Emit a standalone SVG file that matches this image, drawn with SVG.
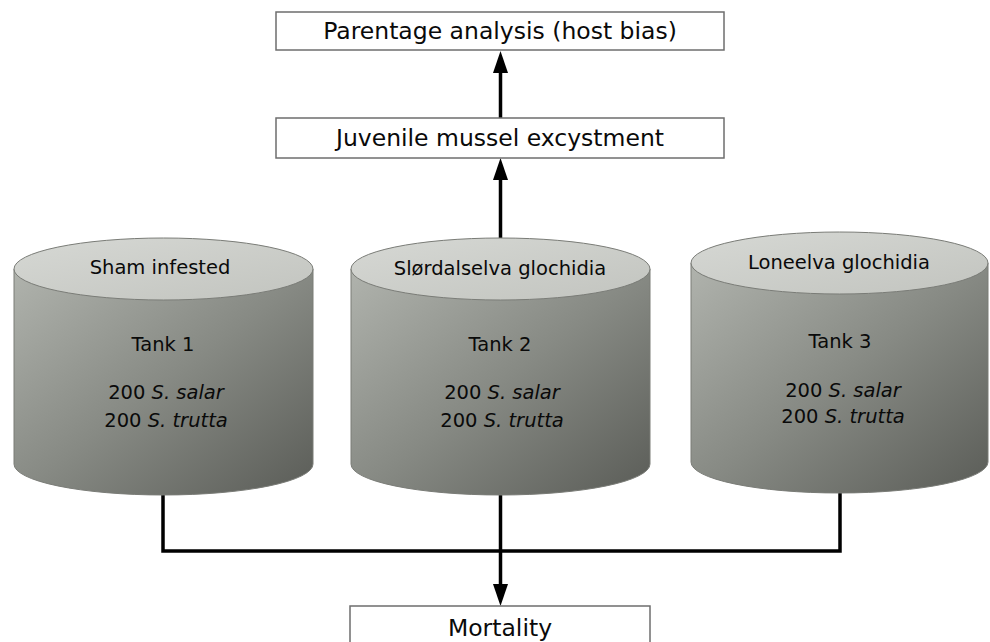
<svg xmlns="http://www.w3.org/2000/svg" width="990" height="642" viewBox="0 0 990 642">
<defs>
<linearGradient id="body" x1="0" y1="0" x2="1" y2="1">
<stop offset="0" stop-color="#b0b3ad"/>
<stop offset="0.5" stop-color="#878a84"/>
<stop offset="1" stop-color="#5a5c57"/>
</linearGradient>
<linearGradient id="lid" x1="0" y1="0" x2="1" y2="1">
<stop offset="0" stop-color="#d6d8d4"/>
<stop offset="1" stop-color="#c2c4bf"/>
</linearGradient>
<marker id="arr" markerUnits="userSpaceOnUse" markerWidth="22" markerHeight="16" refX="0" refY="8" orient="auto">
<path d="M0,0.5 L22,8 L0,15.5 z" fill="#000"/>
</marker>
</defs>
<style>
.box{fill:#fff;stroke:#6e6e6e;stroke-width:1.5}
.body{fill:url(#body);stroke:#7a7c77;stroke-width:1}
.lid{fill:url(#lid);stroke:#7a7c77;stroke-width:1}
.t{font-family:"DejaVu Sans",Verdana,sans-serif;fill:#0a0a0a;text-anchor:middle}
.big{font-size:23.5px}
.sm{font-size:19.5px}
.it{font-style:italic}
.con{fill:none;stroke:#000;stroke-width:3.5}
</style>
<rect width="990" height="642" fill="#fff"/>
<g id="connectors">
<path class="con" d="M500.5,238 V180" marker-end="url(#arr)"/>
<path class="con" d="M500.5,118 V73" marker-end="url(#arr)"/>
<path class="con" d="M163,494 V551 H840 V492"/>
<path class="con" d="M500.5,494 V584" marker-end="url(#arr)"/>
</g>
<g id="parentage">
<rect class="box" x="276" y="12" width="448" height="38"/>
<text class="t big" x="500" y="39">Parentage analysis (host bias)</text>
</g>
<g id="excystment">
<rect class="box" x="276" y="118" width="448" height="40"/>
<text class="t big" x="500" y="146">Juvenile mussel excystment</text>
</g>
<g id="tank1">
<path class="body" d="M14,269 V464 A149.5,31 0 0 0 313,464 V269 Z"/>
<ellipse class="lid" cx="163.5" cy="269" rx="149.5" ry="31"/>
<text class="t sm" x="160" y="274">Sham infested</text>
<text class="t sm" x="163" y="351">Tank 1</text>
<text class="t sm" x="166" y="399">200 <tspan class="it">S. salar</tspan></text>
<text class="t sm" x="166" y="427">200 <tspan class="it">S. trutta</tspan></text>
</g>
<g id="tank2">
<path class="body" d="M351,269 V464 A149.5,31 0 0 0 650,464 V269 Z"/>
<ellipse class="lid" cx="500.5" cy="269" rx="149.5" ry="31"/>
<text class="t sm" x="500" y="275">Slørdalselva glochidia</text>
<text class="t sm" x="500" y="351">Tank 2</text>
<text class="t sm" x="502" y="399">200 <tspan class="it">S. salar</tspan></text>
<text class="t sm" x="502" y="427">200 <tspan class="it">S. trutta</tspan></text>
</g>
<g id="tank3">
<path class="body" d="M691,263 V462 A148.5,31 0 0 0 988,462 V263 Z"/>
<ellipse class="lid" cx="839.5" cy="263" rx="148.5" ry="31"/>
<text class="t sm" x="839" y="269">Loneelva glochidia</text>
<text class="t sm" x="840" y="348">Tank 3</text>
<text class="t sm" x="843" y="397">200 <tspan class="it">S. salar</tspan></text>
<text class="t sm" x="843" y="423">200 <tspan class="it">S. trutta</tspan></text>
</g>
<g id="mortality">
<rect class="box" x="350" y="606" width="300" height="44"/>
<text class="t big" x="500" y="636">Mortality</text>
</g>
</svg>
